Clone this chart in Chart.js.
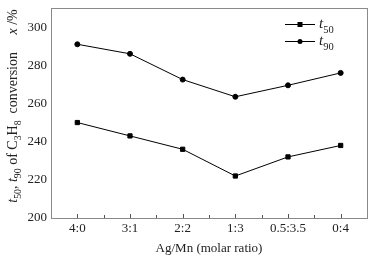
<!DOCTYPE html>
<html>
<head>
<meta charset="utf-8">
<script src="https://cdn.jsdelivr.net/npm/chart.js@4.4.0/dist/chart.umd.min.js"></script>
<style>
  html, body { margin: 0; padding: 0; background: #fff; }
  #wrap { width: 373px; height: 256px; }
</style>
</head>
<body>
<div id="wrap"><canvas id="catChart" width="373" height="256"></canvas></div>
<script>
// data
const ratios = ['4:0', '3:1', '2:2', '1:3', '0.5:3.5', '0:4'];
const t50 = [250, 243, 236, 222, 232, 238];
const t90 = [291, 286, 272.5, 263.5, 269.5, 276];
const yTicks = [200, 220, 240, 260, 280, 300];

const serif = '"Liberation Serif", "Times New Roman", serif';
const frameColor = '#8a8a8a';

// draws rich text pieces: [text, italic, sub]
function drawPieces(ctx, pieces, x, y, size, center) {
    const measure = p => {
        ctx.font = (p[1] ? 'italic ' : '') + (p[2] ? size * 0.7 : size) + 'px ' + serif;
        return ctx.measureText(p[0]).width;
    };
    let total = 0;
    pieces.forEach(p => total += measure(p));
    let cx = center ? x - total / 2 : x;
    pieces.forEach(p => {
        const w = measure(p);
        ctx.fillText(p[0], cx, p[2] ? y + size * 0.3 : y);
        cx += w;
    });
}

const framePlugin = {
    id: 'frame',
    afterDraw(chart) {
        const ctx = chart.ctx;
        const a = chart.chartArea;
        const xs = chart.scales.x;
        ctx.save();
        ctx.strokeStyle = frameColor;
        ctx.lineWidth = 1;
        ctx.strokeRect(Math.round(a.left) + 0.5, Math.round(a.top) + 0.5,
            Math.round(a.right - a.left), Math.round(a.bottom - a.top));
        // inward ticks on x axis, major + minor
        ctx.strokeStyle = '#555';
        ctx.beginPath();
        for (let i = 0; i < ratios.length; i++) {
            const px = Math.round(xs.getPixelForValue(i)) + 0.5;
            ctx.moveTo(px, a.bottom);
            ctx.lineTo(px, a.bottom - 4);
            if (i < ratios.length - 1) {
                const mx = Math.round((xs.getPixelForValue(i) + xs.getPixelForValue(i + 1)) / 2) + 0.5;
                ctx.moveTo(mx, a.bottom);
                ctx.lineTo(mx, a.bottom - 3);
            }
        }
        ctx.stroke();

        // y axis title (rotated)
        ctx.fillStyle = '#222';
        ctx.textBaseline = 'alphabetic';
        ctx.translate(17, 106);
        ctx.rotate(-Math.PI / 2);
        drawPieces(ctx, [
            ['t', true, false], ['50', false, true], [', ', false, false],
            ['t', true, false], ['90', false, true], [' of C', false, false],
            ['3', false, true], ['H', false, false], ['8', false, true],
            ['  conversion     ', false, false], ['x', true, false], [' /%', false, false]
        ], 0, 0, 14, true);
        ctx.setTransform(1, 0, 0, 1, 0, 0);

        // legend
        const rows = [[24, 'rect', '50'], [41, 'circle', '90']];
        rows.forEach(r => {
            ctx.strokeStyle = '#000';
            ctx.beginPath();
            ctx.moveTo(285, r[0] + 0.5);
            ctx.lineTo(315, r[0] + 0.5);
            ctx.stroke();
            ctx.fillStyle = '#000';
            ctx.beginPath();
            if (r[1] === 'rect') ctx.rect(297.5, r[0] - 2, 5, 5);
            else ctx.arc(300, r[0] + 0.5, 2.5, 0, Math.PI * 2);
            ctx.fill();
            ctx.fillStyle = '#222';
            drawPieces(ctx, [['t', true, false], [r[2], false, true]], 319, r[0] + 4, 15, false);
        });
        ctx.restore();
    }
};

const ctx = document.querySelector('#catChart').getContext('2d');
new Chart(ctx, {
    type: 'line',
    data: {
        labels: ratios,
        datasets: [{
            label: 't50',
            data: t50,
            borderColor: '#000',
            backgroundColor: '#000',
            borderWidth: 1,
            pointStyle: 'rect',
            pointRadius: 3,
            tension: 0
        }, {
            label: 't90',
            data: t90,
            borderColor: '#000',
            backgroundColor: '#000',
            borderWidth: 1,
            pointStyle: 'circle',
            pointRadius: 2.5,
            tension: 0
        }]
    },
    options: {
        responsive: false,
        animation: false,
        devicePixelRatio: 1,
        layout: { padding: { top: 8, right: 6, left: 0, bottom: 0 } },
        plugins: {
            legend: { display: false },
            tooltip: { enabled: false }
        },
        scales: {
            x: {
                offset: true,
                grid: { display: false, drawTicks: false },
                border: { display: false },
                ticks: { color: '#222', padding: 3, font: { family: serif, size: 13 }, maxRotation: 0 },
                title: { display: true, text: 'Ag/Mn (molar ratio)', color: '#222', padding: { top: 0, bottom: 0 },
                         font: { family: serif, size: 13 } },
                afterFit: s => { s.height = 38; s.paddingLeft = 0; s.paddingRight = 0; }
            },
            y: {
                min: 200,
                max: 310,
                afterBuildTicks: s => { s.ticks = yTicks.map(v => ({ value: v })); },
                grid: { display: false, drawTicks: false },
                border: { display: false },
                ticks: { color: '#222', padding: 4, font: { family: serif, size: 13 } },
                afterFit: s => { s.width = 51; s.paddingTop = 0; s.paddingBottom = 0; }
            }
        }
    },
    plugins: [framePlugin]
});
</script>
</body>
</html>
